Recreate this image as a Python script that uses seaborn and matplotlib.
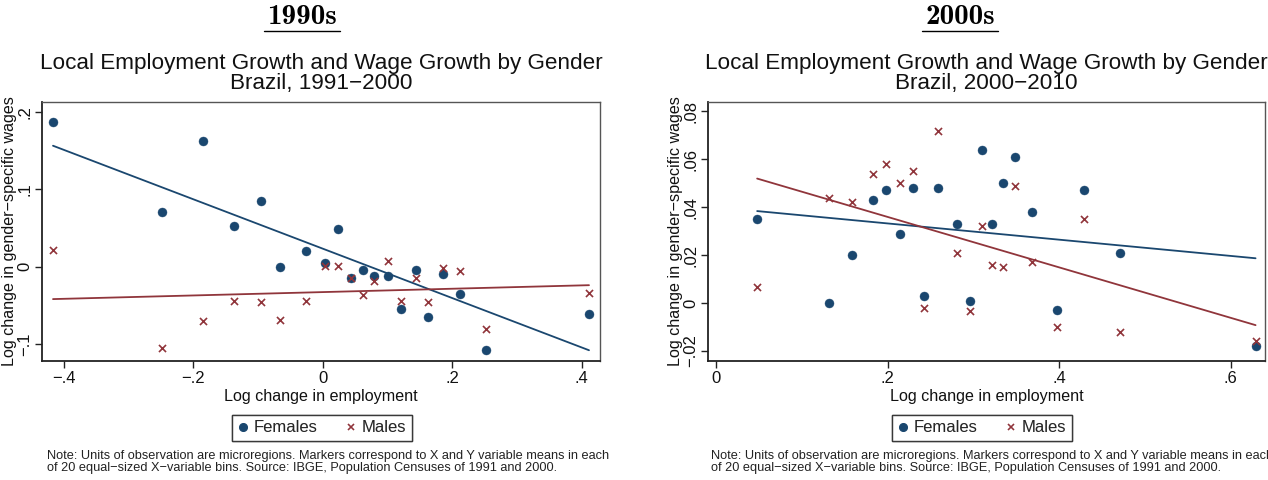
import os
import matplotlib
matplotlib.use("Agg")
import matplotlib.pyplot as plt
from matplotlib.lines import Line2D
from matplotlib.font_manager import FontProperties
import numpy as np
import pandas as pd
import seaborn as sns

# ---- 1990s panel: binned means (20 equal-sized employment-growth bins) ----
emp_1990s = [-0.417, -0.249, -0.185, -0.138, -0.096, -0.066, -0.026, 0.003, 0.024, 0.044,
             0.062, 0.079, 0.100, 0.120, 0.143, 0.162, 0.186, 0.211, 0.252, 0.411]
wage_f_1990s = [0.187, 0.070, 0.162, 0.052, 0.084, 0.000, 0.020, 0.005, 0.049, -0.015,
                -0.005, -0.012, -0.012, -0.055, -0.005, -0.065, -0.009, -0.036, -0.108, -0.061]
wage_m_1990s = [0.021, -0.105, -0.070, -0.045, -0.046, -0.069, -0.045, 0.001, 0.001, -0.015,
                -0.037, -0.019, 0.007, -0.044, -0.015, -0.046, -0.002, -0.006, -0.081, -0.034]
# linear fits (intercept, slope)
fit_f_1990s = (0.023, -0.319)
fit_m_1990s = (-0.033, 0.0217)

# ---- 2000s panel ----
emp_2000s = [0.048, 0.132, 0.158, 0.183, 0.198, 0.215, 0.230, 0.243, 0.259, 0.281,
             0.296, 0.310, 0.322, 0.335, 0.349, 0.368, 0.397, 0.429, 0.471, 0.629]
wage_f_2000s = [0.035, 0.000, 0.020, 0.043, 0.047, 0.029, 0.048, 0.003, 0.048, 0.033,
                0.001, 0.064, 0.033, 0.050, 0.061, 0.038, -0.003, 0.047, 0.021, -0.018]
wage_m_2000s = [0.0066, 0.044, 0.042, 0.054, 0.058, 0.050, 0.055, -0.002, 0.072, 0.021,
                -0.0035, 0.032, 0.016, 0.015, 0.049, 0.017, -0.010, 0.035, -0.012, -0.016]
fit_f_2000s = (0.040, -0.0339)
fit_m_2000s = (0.057, -0.1053)

x_ticks_1990s = [-0.4, -0.2, 0.0, 0.2, 0.4]
x_ticklabels_1990s = ["\u2212.4", "\u2212.2", "0", ".2", ".4"]
y_ticks_1990s = [-0.1, 0.0, 0.1, 0.2]
y_ticklabels_1990s = ["\u2212.1", "0", ".1", ".2"]

x_ticks_2000s = [0.0, 0.2, 0.4, 0.6]
x_ticklabels_2000s = ["0", ".2", ".4", ".6"]
y_ticks_2000s = [-0.02, 0.0, 0.02, 0.04, 0.06, 0.08]
y_ticklabels_2000s = ["\u2212.02", "0", ".02", ".04", ".06", ".08"]

NAVY = "#1a476f"
MAROON = "#90353b"

sns.set_theme(style="white")
plt.rcParams["font.family"] = ["Liberation Sans", "DejaVu Sans"]

cm_bold_path = os.path.join(matplotlib.get_data_path(), "fonts", "ttf", "cmb10.ttf")
if os.path.exists(cm_bold_path):
    head_font = FontProperties(fname=cm_bold_path, size=21)
else:
    head_font = FontProperties(family="DejaVu Serif", weight="bold", size=18)

W, H = 1268, 480
fig = plt.figure(figsize=(W / 100, H / 100), dpi=100)
fig.patch.set_facecolor("white")


def px_axes(left, top, right, bottom):
    return fig.add_axes([left / W, 1 - bottom / H, (right - left) / W, (bottom - top) / H])


def panel(ax, emp, wf, wm, fit_f, fit_m, xlim, ylim, xt, xtl, yt, ytl, title):
    df = pd.DataFrame({"emp": emp, "Females": wf, "Males": wm})
    sns.scatterplot(data=df, x="emp", y="Females", ax=ax, color=NAVY, marker="o",
                    s=42, edgecolor=NAVY, linewidth=0.3, zorder=3)
    sns.scatterplot(data=df, x="emp", y="Males", ax=ax, color=MAROON, marker="x",
                    s=26, linewidth=1.2, zorder=3)
    xs = np.array([min(emp), max(emp)])
    fits = pd.DataFrame({"x": xs,
                         "f": fit_f[0] + fit_f[1] * xs,
                         "m": fit_m[0] + fit_m[1] * xs})
    sns.lineplot(data=fits, x="x", y="f", ax=ax, color=NAVY, linewidth=1.3, zorder=2)
    sns.lineplot(data=fits, x="x", y="m", ax=ax, color=MAROON, linewidth=1.3, zorder=2)

    ax.set_xlim(*xlim)
    ax.set_ylim(*ylim)
    ax.set_xticks(xt)
    ax.set_xticklabels(xtl)
    ax.set_yticks(yt)
    ax.set_yticklabels(ytl, rotation=90, va="center")
    ax.tick_params(axis="both", which="both", direction="out", length=5, width=1,
                   color="#222222", labelsize=12, labelcolor="#111111", pad=2,
                   left=True, bottom=True)
    ax.set_xlabel("Log change in employment", fontsize=11.6, color="#111111", labelpad=2)
    ax.set_ylabel("Log change in gender\u2212specific wages", fontsize=11.6,
                  color="#111111", labelpad=0)
    for side in ["left", "bottom"]:
        ax.spines[side].set_color("#222222")
        ax.spines[side].set_linewidth(1.3)
    for side in ["top", "right"]:
        ax.spines[side].set_color("#555555")
        ax.spines[side].set_linewidth(1.0)
    ax.set_title(title, fontsize=16.2, color="#111111", pad=9, linespacing=0.95)
    ax.grid(False)


ax1 = px_axes(42, 102, 600, 361)
panel(ax1, emp_1990s, wage_f_1990s, wage_m_1990s, fit_f_1990s, fit_m_1990s,
      (-0.434, 0.428), (-0.122, 0.2125),
      x_ticks_1990s, x_ticklabels_1990s, y_ticks_1990s, y_ticklabels_1990s,
      "Local Employment Growth and Wage Growth by Gender\nBrazil, 1991\u22122000")

ax2 = px_axes(708, 102, 1265, 361)
panel(ax2, emp_2000s, wage_f_2000s, wage_m_2000s, fit_f_2000s, fit_m_2000s,
      (-0.0093, 0.64), (-0.0242, 0.0839),
      x_ticks_2000s, x_ticklabels_2000s, y_ticks_2000s, y_ticklabels_2000s,
      "Local Employment Growth and Wage Growth by Gender\nBrazil, 2000\u22122010")

handles = [
    Line2D([], [], linestyle="none", marker="o", color=NAVY, markersize=5.5, label="Females"),
    Line2D([], [], linestyle="none", marker="x", color=MAROON, markersize=5,
           markeredgewidth=1.1, label="Males"),
]
note = ("Note: Units of observation are microregions. Markers correspond to X and Y variable means in each\n"
        "of 20 equal\u2212sized X\u2212variable bins. Source: IBGE, Population Censuses of 1991 and 2000.")

for cx, note_x in [(322, 47), (982, 711)]:
    leg = fig.legend(handles=handles, loc="center", bbox_to_anchor=(cx / W, 1 - 428 / H),
                     ncol=2, frameon=True, fontsize=12, handletextpad=0.35,
                     columnspacing=1.7, borderpad=0.35, handlelength=0.6,
                     borderaxespad=0, fancybox=False)
    leg.get_frame().set_edgecolor("#222222")
    leg.get_frame().set_linewidth(1.0)
    fig.add_artist(leg)
    fig.text(note_x / W, 1 - 462 / H, note, fontsize=9.2, color="#222222",
             ha="left", va="center", linespacing=1.0)

for cx, label in [(302, "1990s"), (960, "2000s")]:
    fig.text(cx / W, 1 - 17 / H, label, fontproperties=head_font,
             ha="center", va="center", color="black")
    fig.add_artist(Line2D([(cx - 38) / W, (cx + 38) / W], [1 - 31 / H, 1 - 31 / H],
                          color="black", linewidth=1.0))

fig.savefig("out.png", dpi=100, facecolor="white")
